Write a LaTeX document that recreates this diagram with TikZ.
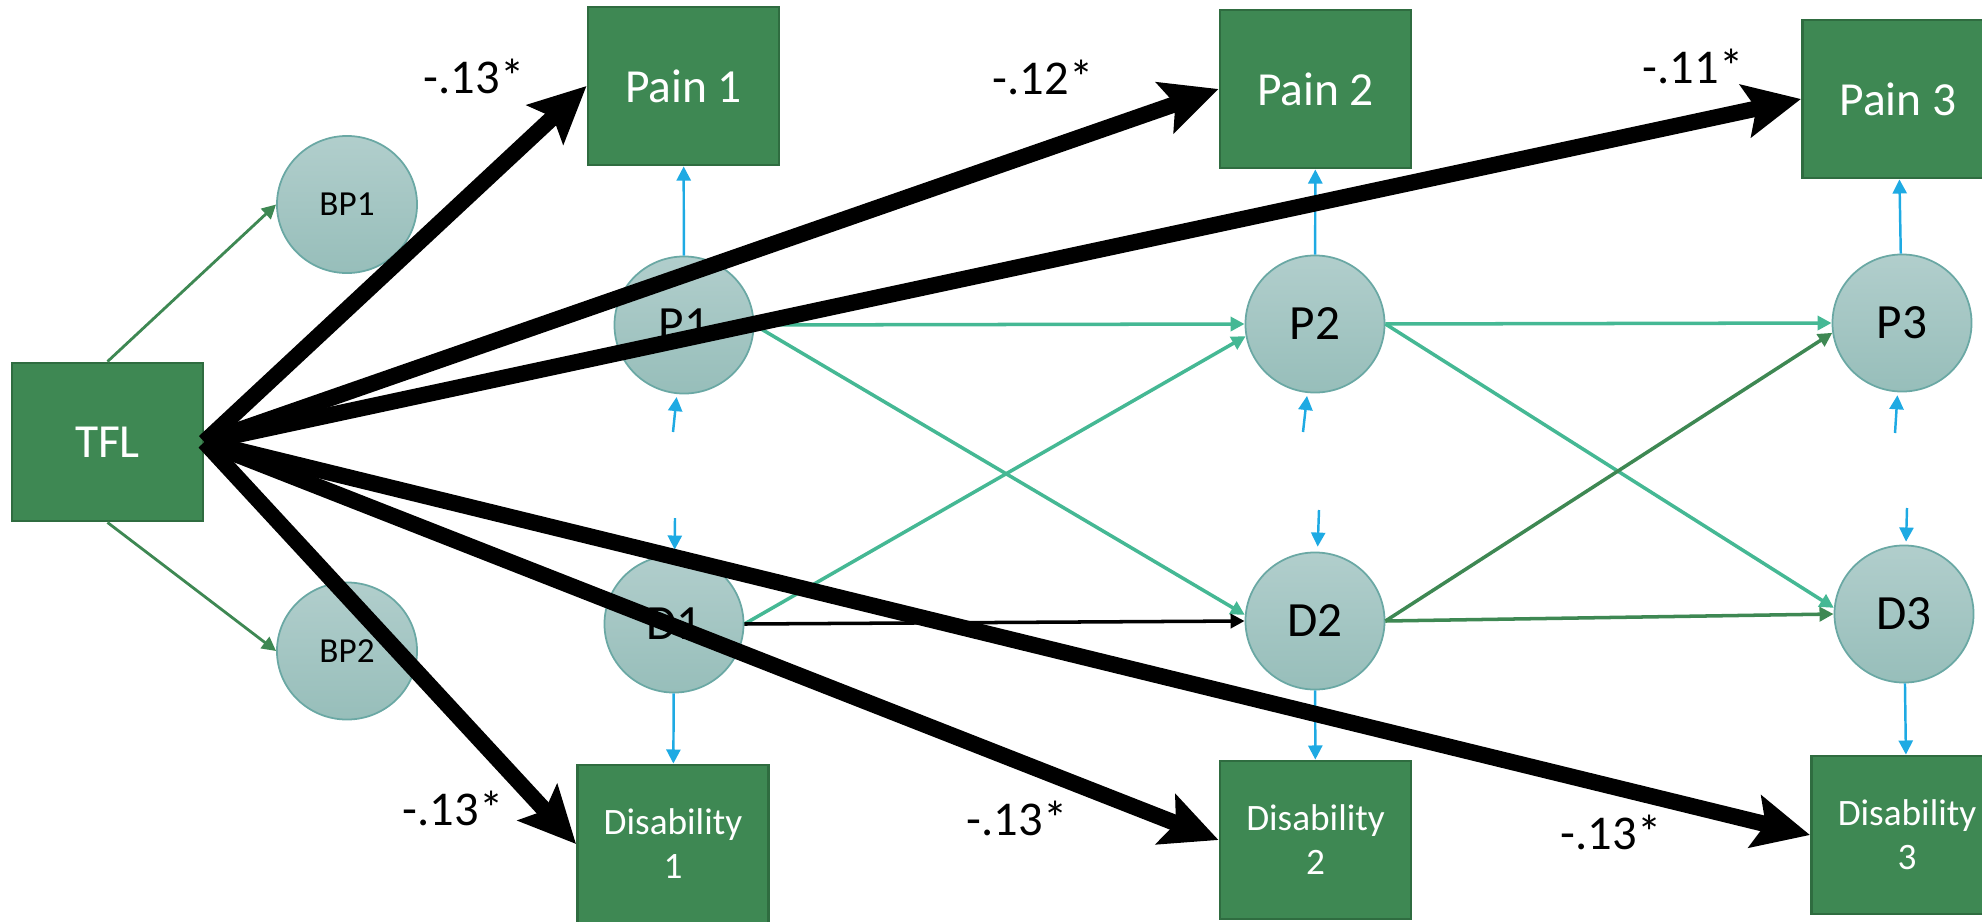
\documentclass[tikz,border=0pt]{standalone}
\usepackage{fontspec}
\setmainfont{Carlito}
\usepackage{tikz}
\usetikzlibrary{arrows.meta,shapes.geometric}
\definecolor{boxgreen}{HTML}{3E8853}
\definecolor{boxline}{HTML}{2F6C40}
\definecolor{elltop}{HTML}{B1CECC}
\definecolor{ellbot}{HTML}{97BEBA}
\definecolor{ellline}{HTML}{6AA8A4}
\definecolor{pathteal}{HTML}{45B894}
\definecolor{errblue}{HTML}{1EAAE3}

\begin{document}
\begin{tikzpicture}[x=0.01cm,y=-0.01cm]
\useasboundingbox (0,0) rectangle (1982,921);
\tikzstyle{measure}=[rectangle,draw=boxline,fill=boxgreen,line width=0.8pt,minimum width=1.91cm,minimum height=1.58cm,inner sep=0pt,text=white,align=center,font=\fontsize{13.5}{16}\selectfont]
\tikzstyle{latent}=[ellipse,draw=ellline,top color=elltop,bottom color=ellbot,line width=0.5pt,minimum width=1.39cm,minimum height=1.37cm,inner sep=0pt,font=\fontsize{14}{16}\selectfont]
\tikzstyle{effect}=[line width=4.6pt,-{Stealth[length=16pt,width=15pt,inset=3pt]}]
\tikzstyle{load}=[errblue,line width=0.7pt,-{Triangle[length=4pt,width=4pt]}]
\tikzstyle{lag}=[pathteal,line width=1pt,-{Triangle[length=4pt,width=4pt]}]
\tikzstyle{mediator}=[boxgreen,line width=0.8pt,-{Triangle[length=4pt,width=4pt]}]
\tikzstyle{coef}=[font=\fontsize{13.8}{16}\selectfont]
\node[measure] (TFL) at (107.5,442) {TFL};
\foreach \name/\point/\txt in {
	Pain1/{683.5,86}/Pain 1,
	Pain2/{1315.5,89}/Pain 2,
	Pain3/{1898,99}/Pain 3}
	\node[measure] (\name) at (\point) {\txt};
\foreach \name/\point/\num in {
	Dis1/{673,844}/1,
	Dis2/{1315.5,840}/2,
	Dis3/{1907,835}/3}
	\node[measure,font=\fontsize{10.6}{12.5}\selectfont] (\name) at (\point) {Disability\\\num};
\foreach \name/\point in {
	P1/{684,325},
	D1/{674,624},
	P2/{1315,324},
	D2/{1315,621},
	P3/{1902,323},
	D3/{1904,614}}
	\node[latent] (\name) at (\point) {\name};
\foreach \name/\point in {BP1/{347,204.5},BP2/{347,651}}
	\node[latent,minimum width=1.4cm,font=\fontsize{10}{12}\selectfont] (\name) at (\point) {\name};
\foreach \name/\point in {
	eP1/{673,432},
	eP2/{1303,432},
	eP3/{1895,433},
	eD1/{675,518},
	eD2/{1319,510},
	eD3/{1907,508}}
	\coordinate (\name) at (\point);
	\draw[mediator] (TFL.north) -- (BP1.west);
	\draw[mediator] (TFL.south) -- (BP2.west);
	\draw[load] (P1) -- (Pain1);
	\draw[load] (P2) -- (Pain2);
	\draw[load] (P3) -- (Pain3);
	\draw[load] (D1) -- (Dis1);
	\draw[load] (D2) -- (Dis2);
	\draw[load] (D3) -- (Dis3);
	\draw[load,shorten >=0.03cm] (eP1) -- (P1);
	\draw[load,shorten >=0.03cm] (eP2) -- (P2);
	\draw[load,shorten >=0.03cm] (eP3) -- (P3);
	\draw[load,shorten >=0.05cm] (eD1) -- (D1);
	\draw[load,shorten >=0.05cm] (eD2) -- (D2);
	\draw[load,shorten >=0.03cm] (eD3) -- (D3);
	\draw[lag] (P1.east) -- (P2.west);
	\draw[lag] (P1.east) -- (D2.175);
	\draw[lag] (D1.east) -- (P2.190);
	\draw[lag] (P2.east) -- (P3.west);
	\draw[lag] (P2.east) -- (D3.175);
	\draw[lag,boxgreen] (D2.east) -- (P3.188);
	\draw[lag,boxgreen] (D2.east) -- (D3.west);
	\draw[lag,black] (D1.east) -- (D2.west);
\foreach \target in {Pain1,Pain2,Pain3,Dis1,Dis2,Dis3}
	\draw[effect] (TFL.east) -- (\target.west);
\foreach \name/\point/\val in {
	c1/{474,76}/-.13*,
	c2/{1043,77}/-.12*,
	c3/{1693,66}/-.11*,
	c4/{453,808}/-.13*,
	c5/{1017,818}/-.13*,
	c6/{1611,832}/-.13*}
	\node[coef] (\name) at (\point) {\val};
\end{tikzpicture}
\end{document}
